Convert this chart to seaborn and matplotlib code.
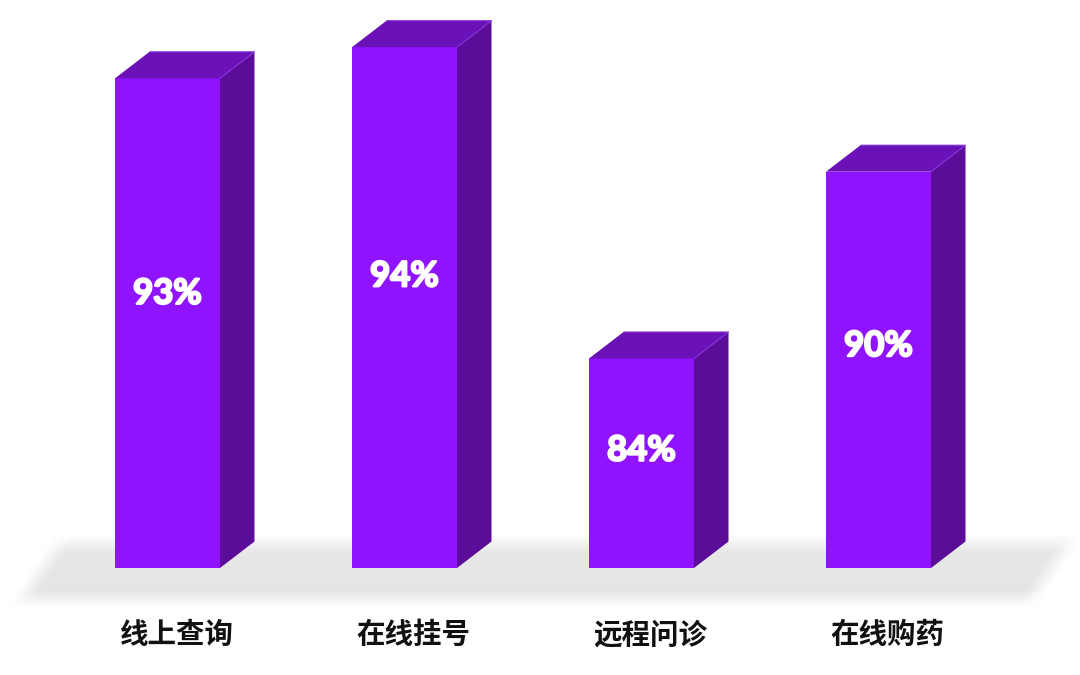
import numpy as np
import pandas as pd
import matplotlib
matplotlib.use('Agg')
import matplotlib.pyplot as plt
import matplotlib.patheffects as pe
import seaborn as sns
from matplotlib.patches import Polygon

categories = ['线上查询', '在线挂号', '远程问诊', '在线购药']
values = [93, 94, 84, 90]
value_labels = ['93%', '94%', '84%', '90%']

FRONT = '#9013FE'
TOP = '#6A12B7'
SIDE = '#5B0D9A'
EDGE = '#8433D6'

sns.set_theme(style='white')
plt.rcParams['font.family'] = ['Noto Sans CJK SC', 'DejaVu Sans']

W, H = 1080, 675
fig = plt.figure(figsize=(W / 100, H / 100), dpi=100)
fig.patch.set_facecolor('white')

# soft floor shadow (decoration)
bg = fig.add_axes([0, 0, 1, 1], zorder=0)
yy, xx = np.mgrid[0:H, 0:W] + 0.5
slope = 40 / 60
xl = 62 - (yy - 540) * slope
xr = 1070 - (yy - 540) * slope
soft = 18.0
def s(d):
    return np.clip(d / soft + 0.5, 0, 1)
alpha = s(yy - 543) * s(599 - yy) * s((xx - xl) * 0.83) * s((xr - xx) * 0.83)
shade = 0.91 - 0.015 * np.clip((yy - 540) / 60, 0, 1)
gray = 1 - alpha * (1 - shade)
img = np.dstack([gray, gray, gray])
bg.imshow(img, extent=[0, W, H, 0], aspect='auto', interpolation='bilinear')
bg.set_xlim(0, W)
bg.set_ylim(H, 0)
bg.axis('off')

# main axes
base_px = 568
px_per_unit = 31.13
base = 77.27
cat_px = 237
first_center = 167.5

ax = fig.add_axes([0, (H - base_px) / H, 1, base_px / H], zorder=1)
ax.patch.set_alpha(0)

df = pd.DataFrame({'cat': categories, 'val': values})
sns.barplot(data=df, x='cat', y='val', order=categories, color=FRONT,
            saturation=1, width=105 / cat_px, ax=ax, edgecolor='none',
            linewidth=0, errorbar=None)

ax.set_xlim(-first_center / cat_px, (W - first_center) / cat_px)
ax.set_ylim(base, base + base_px / px_per_unit)

dxd = 34.5 / cat_px
dyd = 26.5 / px_per_unit

for p, v, lab in zip(ax.patches, values, value_labels):
    x0 = p.get_x()
    w = p.get_width()
    top_face = Polygon([(x0, v), (x0 + w, v), (x0 + w + dxd, v + dyd), (x0 + dxd, v + dyd)],
                       closed=True, facecolor=TOP, edgecolor='none', clip_on=False, zorder=3)
    side_face = Polygon([(x0 + w, base), (x0 + w + dxd, base + dyd), (x0 + w + dxd, v + dyd), (x0 + w, v)],
                        closed=True, facecolor=SIDE, edgecolor='none', clip_on=False, zorder=3)
    ax.add_patch(side_face)
    ax.add_patch(top_face)
    ax.plot([x0 + dxd, x0 + w + dxd, x0 + w], [v + dyd, v + dyd, v],
            color=EDGE, lw=0.8, clip_on=False, zorder=4, solid_capstyle='butt')
    ax.text(x0 + w / 2, base + 0.56 * (v - base), lab, ha='center', va='center',
            color='white', fontsize=25, fontweight='bold',
            family=['Lato', 'DejaVu Sans'], zorder=5,
            path_effects=[pe.withStroke(linewidth=1.6, foreground='white')])

for i, c in enumerate(categories):
    ax.text(i + 9 / cat_px, -(635 - base_px) / base_px, c, transform=ax.get_xaxis_transform(),
            ha='center', va='center', fontsize=20.5, fontweight='bold',
            color='#111111', family=['Noto Sans CJK SC', 'DejaVu Sans'], clip_on=False)

ax.set_xlabel('')
ax.set_ylabel('')
ax.set_xticks([])
ax.set_yticks([])
for sp in ax.spines.values():
    sp.set_visible(False)

fig.savefig('out.png', dpi=100, facecolor='white')
